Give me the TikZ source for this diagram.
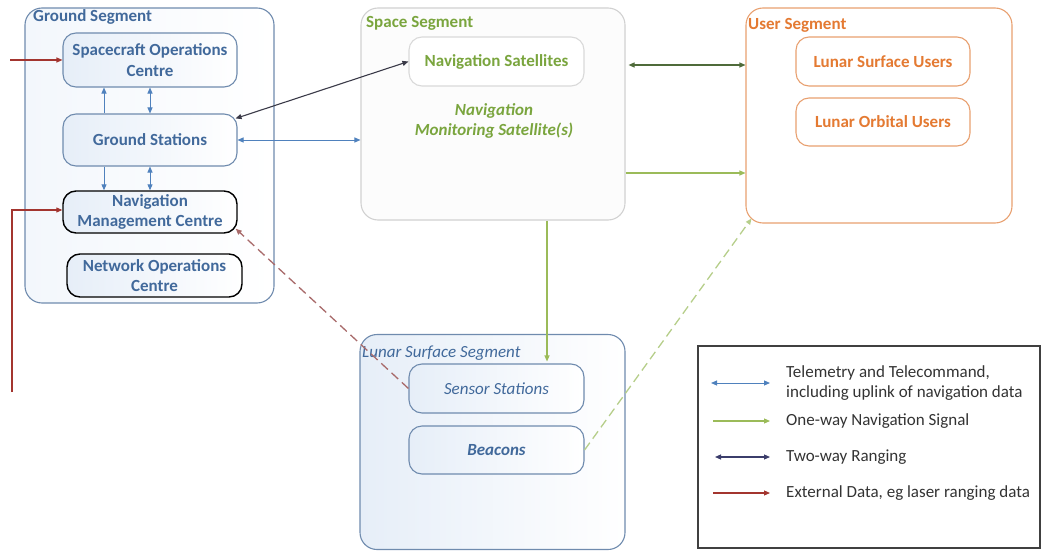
\documentclass[tikz,border=0pt]{standalone}
\usepackage{fontspec}
\setmainfont{Carlito}
\usetikzlibrary{arrows.meta,calc}
\definecolor{gtext}{HTML}{41699B}
\definecolor{gline}{HTML}{6F8BAE}
\definecolor{ttblue}{HTML}{4F81BD}
\definecolor{sgreen}{HTML}{7AA53E}
\definecolor{nvgreen}{HTML}{9BBB59}
\definecolor{dgreen}{HTML}{4F6B3A}
\definecolor{uorange}{HTML}{E47A32}
\definecolor{uline}{HTML}{E8A070}
\definecolor{xred}{HTML}{A3352F}
\definecolor{dred}{HTML}{A86A6A}
\definecolor{lgreen}{HTML}{B6CE8A}
\definecolor{navy}{HTML}{3B3D6B}
\definecolor{dgray}{HTML}{3A3A48}
\definecolor{ltxt}{HTML}{333333}
\definecolor{lblue}{HTML}{E6EEF8}
\definecolor{vlblue}{HTML}{F3F7FC}
\tikzset{
  tip/.style={-{Triangle[length=6pt,width=5pt]}},
  dtip/.style={{Triangle[length=6pt,width=5pt]}-{Triangle[length=6pt,width=5pt]}},
  seg/.style={draw, rounded corners=17pt, line width=1.1pt},
  subbox/.style={draw, rounded corners=13pt, line width=1.1pt, align=center,
     font=\fontsize{17}{20.5}\selectfont\bfseries},
  gsub/.style={subbox, draw=gline, left color=lblue, right color=white, text=gtext},
  seglabel/.style={anchor=west, inner sep=0pt, font=\fontsize{17}{19}\selectfont\bfseries},
  tt/.style={draw=ttblue, line width=1pt},
  legtext/.style={anchor=west, inner sep=0pt, align=left, text=ltxt, font=\fontsize{17}{20}\selectfont},
}
\begin{document}
\begin{tikzpicture}[x=1pt,y=-1pt]
\useasboundingbox (0,0) rectangle (1046,551);
% ---------------- segments
\node[seg, draw=gline, left color=vlblue, right color=white, minimum width=249pt, minimum height=295pt] (ground) at (149.5,155.5) {};
\node[seglabel, text=gtext] (glab) at (33,17) {Ground Segment};
\node[seg, draw=black!18, fill=black!1, minimum width=264pt, minimum height=212pt] (space) at (493,114) {};
\node[seglabel, text=sgreen] (slab) at (366,23) {Space Segment};
\node[seg, draw=uline, fill=white, minimum width=266pt, minimum height=215pt] (user) at (879,115.5) {};
\node[seglabel, text=uorange] (ulab) at (748,25) {User Segment};
\node[seg, draw=gline, left color=lblue, right color=white, minimum width=265pt, minimum height=215pt] (lunar) at (492.5,442) {};
\node[seglabel, text=gtext, font=\fontsize{17}{19}\selectfont\itshape] (llab) at (362,353) {Lunar Surface Segment};
% ---------------- ground nodes
\node[gsub, minimum width=174pt, minimum height=54pt] (soc) at (150,60) {Spacecraft Operations\\Centre};
\node[gsub, minimum width=174pt, minimum height=52pt] (gs) at (150,140) {Ground Stations};
\node[gsub, draw=black, line width=1.4pt, minimum width=174pt, minimum height=42pt] (nmc) at (150,212) {Navigation\\Management Centre};
\node[gsub, draw=black, line width=1.4pt, minimum width=175pt, minimum height=43pt] (noc) at (154.5,275.5) {Network Operations\\Centre};
% ---------------- space nodes
\node[subbox, draw=black!15, fill=white, text=sgreen, minimum width=175pt, minimum height=49pt] (navsat) at (496.5,61.5) {Navigation Satellites};
\node[align=center, text=sgreen, font=\fontsize{17}{20}\selectfont\bfseries\itshape] (nms) at (494,121) {Navigation\\Monitoring Satellite(s)};
% ---------------- user nodes
\node[subbox, draw=uline, fill=white, text=uorange, minimum width=174pt, minimum height=49pt] (lsu) at (883,61.5) {Lunar Surface Users};
\node[subbox, draw=uline, fill=white, text=uorange, minimum width=174pt, minimum height=48pt] (lou) at (883,122) {Lunar Orbital Users};
% ---------------- lunar nodes
\node[gsub, font=\fontsize{17}{20}\selectfont\itshape, minimum width=175pt, minimum height=49pt] (sensor) at (496.5,388.5) {Sensor Stations};
\node[gsub, font=\fontsize{17}{20}\selectfont\bfseries\itshape, minimum width=175pt, minimum height=48pt] (beacons) at (496.5,450) {Beacons};
% ---------------- ground internal links
\draw[tt, tip] ([xshift=-46pt]gs.north) -- ([xshift=-46pt]soc.south);
\draw[tt, dtip] (gs.north) -- (soc.south);
\draw[tt, tip] ([xshift=-46pt]gs.south) -- ([xshift=-46pt]nmc.north);
\draw[tt, dtip] (gs.south) -- (nmc.north);
% ---------------- external data
\coordinate (ext1) at (10,60);
\coordinate (ext2) at (12,392);
\draw[draw=xred, line width=1.1pt, tip] (ext1) -- (soc.west);
\draw[draw=xred, line width=1.1pt, tip] (ext2) |- ([yshift=2pt]nmc.west);
% ---------------- two-way ranging / TT
\draw[draw=dgray, line width=1.1pt, dtip] ([xshift=-2pt,yshift=-5pt]gs.north east) -- (navsat.west);
\draw[tt, dtip] (gs.east) -- (space.west |- gs.east);
\coordinate (r1) at (0,65);
\draw[draw=dgreen, line width=1.1pt, dtip] ([xshift=3pt]space.east |- r1) -- (user.west |- r1);
\coordinate (g1) at (0,173);
\draw[draw=nvgreen, line width=1.1pt, tip] (space.east |- g1) -- (user.west |- g1);
\coordinate (gd) at (547,0);
\draw[draw=nvgreen, line width=1.1pt, tip] (space.south -| gd) -- ([yshift=2pt]sensor.north -| gd);
% ---------------- dashed
\draw[draw=dred, line width=1.3pt, dash pattern=on 9pt off 5pt, tip] (sensor.west) -- ([xshift=-2pt,yshift=5pt]nmc.south east);
\draw[draw=lgreen, line width=1.3pt, dash pattern=on 9pt off 5pt, tip] (beacons.east) -- ([xshift=6pt,yshift=5pt]user.south west);
% ---------------- legend
\node[draw=black!75, line width=1.4pt, minimum width=342pt, minimum height=202pt] (legend) at (869,447) {};
\coordinate (l1a) at (711,383); \coordinate (l1b) at (770,383);
\coordinate (l2a) at (713,421); \coordinate (l2b) at (770,421);
\coordinate (l3a) at (715,457); \coordinate (l3b) at (770,457);
\coordinate (l4a) at (713,493); \coordinate (l4b) at (770,493);
\draw[tt, dtip] (l1a) -- (l1b);
\draw[draw=nvgreen, line width=1.1pt, tip] (l2a) -- (l2b);
\draw[draw=navy, line width=1.1pt, dtip] (l3a) -- (l3b);
\draw[draw=xred, line width=1.1pt, tip] (l4a) -- (l4b);
\node[legtext] (t1) at (786,383) {Telemetry and Telecommand,\\including uplink of navigation data};
\node[legtext] (t2) at (786,421) {One-way Navigation Signal};
\node[legtext] (t3) at (786,457) {Two-way Ranging};
\node[legtext] (t4) at (786,493) {External Data, eg laser ranging data};
\end{tikzpicture}
\end{document}
